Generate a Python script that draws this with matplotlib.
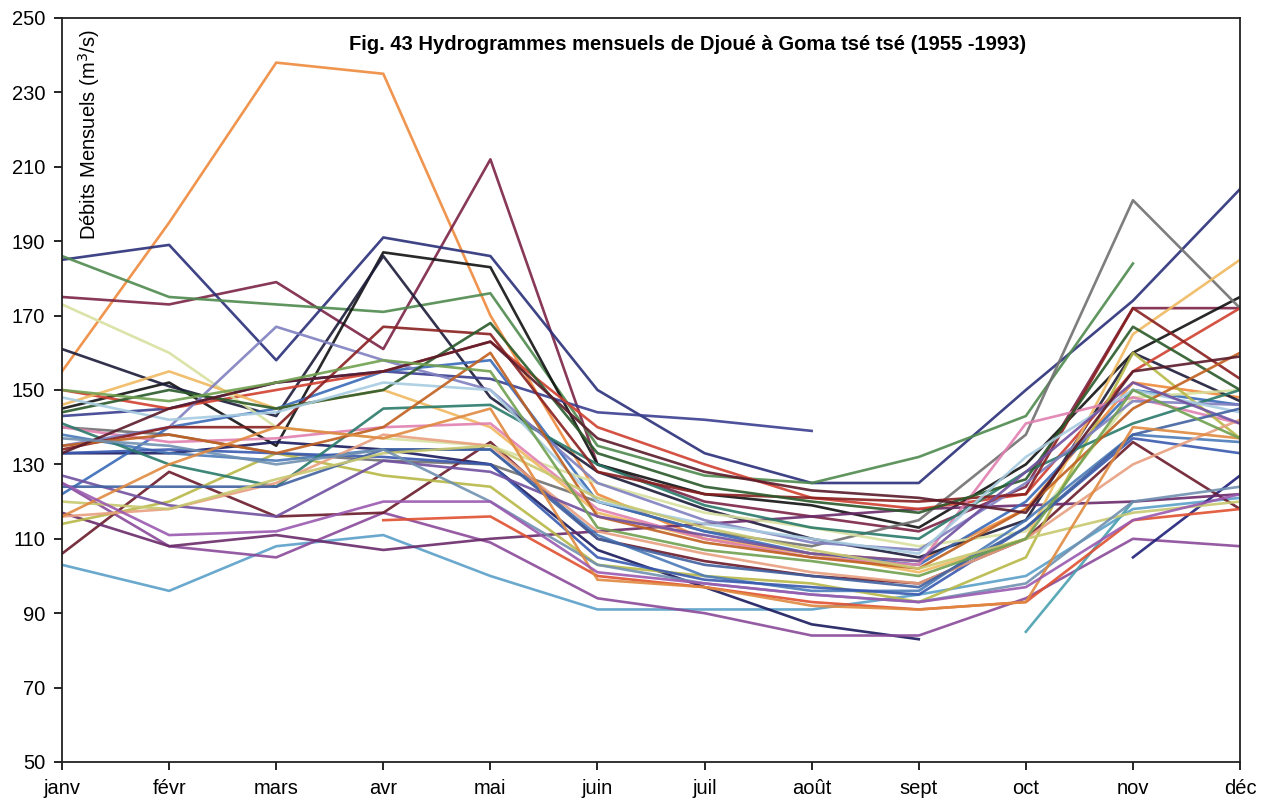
import numpy as np
import matplotlib.pyplot as plt

nan = np.nan

months = ["janv", "févr", "mars", "avr", "mai", "juin",
          "juil", "août", "sept", "oct", "nov", "déc"]

# monthly flows (m3/s), one list per year
q1955 = [155, 195, 238, 235, 170, 122, 110, 106, 104, 118, 152, 148]
q1956 = [175, 173, 179, 161, 212, 130, 120, 116, 112, 124, 172, 172]
q1957 = [185, 189, 158, 191, 186, 150, 133, 125, 125, 150, 174, 204]
q1958 = [186, 175, 173, 171, 176, 135, 127, 125, 132, 143, 184, nan]
q1959 = [145, 152, 135, 187, 183, 130, 122, 119, 113, 130, 160, 175]
q1960 = [161, 151, 143, 186, 148, 128, 118, 110, 105, 115, 160, 147]
q1961 = [140, 138, 133, 131, 130, 120, 112, 108, 115, 138, 201, 172]
q1962 = [143, 145, 152, 155, 153, 144, 142, 139, nan, nan, nan, nan]
q1963 = [103, 96, 108, 111, 100, 91, 91, 91, 95, 100, 118, 121]
q1964 = [133, 133, 136, 134, 130, 107, 97, 87, 83, nan, nan, nan]
q1965 = [125, 108, 105, 117, 109, 94, 90, 84, 84, 94, 110, 108]
q1966 = [nan, nan, nan, nan, nan, nan, nan, nan, nan, 85, 120, nan]
q1967 = [nan, nan, nan, nan, nan, nan, nan, nan, nan, nan, 105, 127]
q1968 = [106, 128, 116, 117, 136, 110, 104, 100, 98, 110, 136, 118]
q1969 = [117, 108, 111, 107, 110, 112, 114, 116, 118, 119, 120, 122]
q1970 = [122, 140, 145, 155, 158, 120, 112, 106, 103, 120, 150, 146]
q1971 = [150, 145, 150, 155, 163, 140, 130, 121, 118, 122, 155, 172]
q1972 = [173, 160, 140, 137, 135, 125, 117, 113, 108, 112, 148, 150]
q1973 = [146, 155, 145, 150, 140, 117, 110, 106, 101, 110, 165, 185]
q1974 = [140, 136, 137, 140, 141, 118, 110, 105, 103, 141, 148, 141]
q1975 = [114, 120, 133, 127, 124, 103, 100, 98, 93, 105, 160, 137]
q1976 = [138, 133, 131, 134, 134, 111, 100, 96, 96, 115, 138, 136]
q1977 = [133, 134, 133, 132, 130, 105, 99, 97, 95, 113, 137, 133]
q1978 = [141, 130, 124, 145, 146, 130, 119, 113, 110, 128, 141, 150]
q1979 = [116, 118, 125, 138, 135, 112, 106, 101, 98, 110, 130, 142]
q1980 = [135, 140, 167, 158, 150, 125, 115, 109, 107, 125, 147, 146]
q1981 = [134, 140, 140, 167, 165, 128, 122, 121, 120, 122, 172, 153]
q1982 = [144, 150, 145, 150, 168, 133, 124, 120, 117, 126, 167, 150]
q1983 = [148, 142, 144, 152, 150, 120, 114, 110, 106, 132, 150, 144]
q1984 = [135, 138, 133, 140, 160, 116, 109, 105, 102, 118, 145, 160]
q1985 = [127, 119, 116, 131, 128, 116, 111, 106, 104, 128, 152, 141]
q1986 = [124, 124, 124, 134, 134, 110, 103, 100, 97, 113, 138, 145]
q1987 = [133, 145, 152, 155, 163, 137, 128, 123, 121, 117, 155, 159]
q1988 = [120, 118, 126, 133, 135, 121, 113, 107, 102, 110, 117, 120]
q1989 = [137, 135, 130, 134, 120, 103, 98, 95, 93, 98, 120, 124]
q1990 = [nan, nan, nan, 115, 116, 100, 97, 93, 91, 93, 115, 118]
q1991 = [116, 130, 140, 137, 145, 99, 97, 92, 91, 93, 140, 137]
q1992 = [150, 147, 152, 158, 155, 113, 107, 104, 100, 110, 150, 137]
q1993 = [125, 111, 112, 120, 120, 101, 98, 95, 93, 97, 115, 122]

series = [q1955, q1956, q1957, q1958, q1959, q1960, q1961, q1962, q1963,
          q1964, q1965, q1966, q1967, q1968, q1969, q1970, q1971, q1972,
          q1973, q1974, q1975, q1976, q1977, q1978, q1979, q1980, q1981,
          q1982, q1983, q1984, q1985, q1986, q1987, q1988, q1989, q1990,
          q1991, q1992, q1993]

colors = ["#ee8a3c", "#7b2346", "#2a2f7a", "#4f8a4f", "#111111", "#1c1c3a",
          "#707070", "#3a3f8f", "#5aa0c8", "#1a1a5e", "#8a4a9a", "#4aa0b0",
          "#20207a", "#6a1a2a", "#6a2a6a", "#3a6ab8", "#d04030", "#d8e0a0",
          "#f0b860", "#e080b0", "#b8b848", "#4a7ab8", "#3a5ab0", "#2a7a6a",
          "#e8a080", "#8080c0", "#8a2020", "#2a5a2a", "#a8cce0", "#c06020",
          "#7050a0", "#4060a0", "#5a1a2a", "#c8c870", "#7090b0", "#e05030",
          "#e08a40", "#70a050", "#9a5ab0"]

plt.rcParams["font.family"] = ["Liberation Sans", "DejaVu Sans"]

fig = plt.figure(figsize=(12.66, 8.06), dpi=100)
ax = fig.add_axes([0.049, 0.0546, 0.9305, 0.9231])

x = np.arange(len(months))
for vals, c in zip(series, colors):
    ax.plot(x, vals, color=c, lw=1.9, alpha=0.9)

ax.set_xlim(0, 11)
ax.set_ylim(50, 250)
ax.set_yticks(np.arange(50, 251, 20))
ax.set_xticks(x)
ax.set_xticklabels(months)
ax.tick_params(axis="both", direction="out", length=6, width=1.2,
               labelsize=14.5, pad=6)
for side in ax.spines.values():
    side.set_linewidth(1.3)
    side.set_color("#222222")

ax.text(0.531, 0.965, "Fig. 43 Hydrogrammes mensuels de Djoué à Goma tsé tsé (1955 -1993)",
        transform=ax.transAxes, ha="center", va="center",
        fontsize=14.5, fontweight="bold")
ax.text(0.012, 0.985, "Débits Mensuels (m$^3$/s)", transform=ax.transAxes,
        rotation=90, ha="left", va="top", fontsize=14.5)

fig.savefig("out.png", dpi=100)
